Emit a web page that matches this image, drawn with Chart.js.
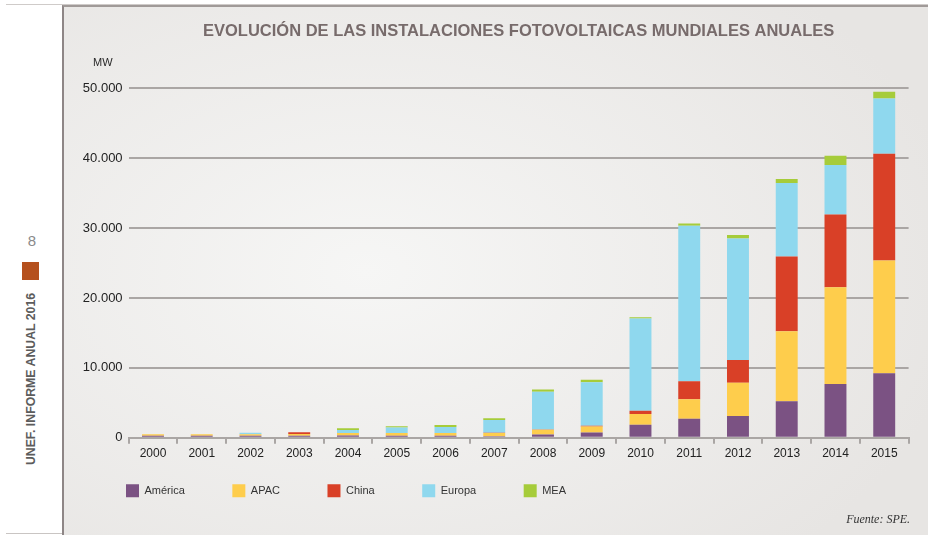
<!DOCTYPE html>
<html>
<head>
<meta charset="utf-8">
<script src="https://cdn.jsdelivr.net/npm/chart.js@4.4.0/dist/chart.umd.min.js"></script>
<style>
  html, body { margin: 0; padding: 0; background: #fff; }
  body { width: 928px; height: 535px; position: relative; overflow: hidden; font-family: "Liberation Sans", Arial, sans-serif; }
  .top-line { position: absolute; left: 6px; top: 4px; width: 922px; height: 1px; background: #cfcbc9; }
  .bottom-line { position: absolute; left: 6px; top: 533px; width: 922px; height: 1px; background: #c9c5c3; }
  .panel {
    position: absolute; left: 62px; top: 5px; width: 864px; height: 528px;
    border-left: 2px solid #8e8686; border-top: 2px solid #a09a98;
    background: radial-gradient(ellipse 70% 75% at 35% 50%, #f6f6f5 0%, #e7e5e3 100%);
  }
  .panel canvas { position: absolute; left: 0; top: 0; }
  .page-num { position: absolute; left: 24px; top: 232px; width: 16px; text-align: center; font-size: 15px; color: #8a8a8a; }
  .mark { position: absolute; left: 22px; top: 262px; width: 17px; height: 18px; background: #b5501d; }
  .side {
    position: absolute; left: 31px; top: 379px; transform: translate(-50%, -50%) rotate(-90deg);
    white-space: nowrap; font-weight: bold; font-size: 12.3px; color: #5c5c5c;
  }
</style>
</head>
<body>
<div class="top-line"></div>
<div class="bottom-line"></div>
<div class="page-num">8</div>
<div class="mark"></div>
<div class="side">UNEF. INFORME ANUAL 2016</div>
<div class="panel"><canvas id="pvChart" width="864" height="526"></canvas></div>
<script>
// data (MW)
const years = ["2000", "2001", "2002", "2003", "2004", "2005", "2006", "2007",
  "2008", "2009", "2010", "2011", "2012", "2013", "2014", "2015"];
const america = [280, 280, 280, 280, 330, 290, 290, 220, 470, 760, 1860, 2720, 3110, 5210, 7690, 9230];
const apac = [200, 220, 200, 250, 330, 380, 370, 470, 670, 860, 1530, 2780, 4770, 10030, 13850, 16130];
const china = [0, 0, 0, 250, 20, 20, 20, 20, 40, 100, 470, 2580, 3250, 10690, 10400, 15290];
const europa = [0, 0, 240, 0, 430, 760, 860, 1820, 5390, 6200, 13180, 22250, 17380, 10520, 7080, 7880];
const mea = [0, 0, 0, 0, 240, 190, 290, 240, 330, 380, 200, 330, 490, 570, 1330, 960];
const yTicks = [0, 10000, 20000, 30000, 40000, 50000];

const gridColor = "#aaa6a4";
const legendPad = 47.5;

function hasFont(name) {
  const c = document.createElement("canvas").getContext("2d");
  const s = "América MW 2015";
  c.font = "20px monospace";
  const a = c.measureText(s).width;
  c.font = '20px "' + name + '", monospace';
  return c.measureText(s).width !== a;
}
const narrow = hasFont("Liberation Sans Narrow");
const smallFont = narrow
  ? { family: '"Liberation Sans Narrow", "Liberation Sans", sans-serif', size: 13 }
  : { family: '"Liberation Sans", sans-serif', size: 11 };

function fmt(v) {
  return String(v).replace(/\B(?=(\d{3})+(?!\d))/g, ".");
}

// legend sits closer to the axis than Chart.js would put it with this wide item padding
const legendLift = {
  id: "legendLift",
  afterLayout(chart) {
    const lg = chart.legend;
    const h = lg.bottom - lg.top;
    lg.top = 477.3 - legendPad;
    lg.bottom = lg.top + h;
  },
};

// "MW" above the axis and the source note
const extraText = {
  id: "extraText",
  afterDraw(chart) {
    const ctx = chart.ctx;
    const area = chart.chartArea;
    ctx.save();
    ctx.fillStyle = "#2a2a2a";
    ctx.font = smallFont.size + "px " + smallFont.family;
    ctx.textBaseline = "middle";
    ctx.textAlign = "left";
    ctx.fillText("MW", chart.scales.y.left + 14.5, area.top - 25);
    ctx.fillStyle = "#333";
    ctx.font = 'italic 12px "Liberation Serif", serif';
    ctx.textBaseline = "alphabetic";
    ctx.textAlign = "right";
    ctx.fillText("Fuente: SPE.", area.right + 1.5, 515.5);
    ctx.restore();
  },
};

function ds(label, data, color) {
  return { label: label, data: data, backgroundColor: color, borderWidth: 0 };
}

const ctx = document.getElementById("pvChart").getContext("2d");
new Chart(ctx, {
  type: "bar",
  data: {
    labels: years,
    datasets: [
      ds("América", america, "#7b5283"),
      ds("APAC", apac, "#fecd4c"),
      ds("China", china, "#d94027"),
      ds("Europa", europa, "#8fd8ee"),
      ds("MEA", mea, "#a6cc3a"),
    ],
  },
  options: {
    responsive: false,
    animation: false,
    events: [],
    barPercentage: 0.9,
    categoryPercentage: 0.5,
    layout: { padding: { left: 14.5, right: 19.4, top: 0, bottom: 0.8 } },
    plugins: {
      title: {
        display: true,
        text: "EVOLUCIÓN DE LAS INSTALACIONES FOTOVOLTAICAS MUNDIALES ANUALES",
        fullSize: false,
        color: "#776b6b",
        font: { family: '"Liberation Sans", sans-serif', size: 16.5, weight: "bold", lineHeight: 1.2 },
        padding: { top: 14.1, bottom: 47.4 },
      },
      legend: {
        position: "bottom",
        align: "start",
        labels: {
          boxWidth: 13,
          boxHeight: 13,
          padding: legendPad,
          color: "#333",
          font: smallFont,
        },
      },
      tooltip: { enabled: false },
    },
    scales: {
      x: {
        stacked: true,
        afterFit: (scale) => { scale.height = 24; },
        grid: {
          offset: true,
          drawOnChartArea: false,
          drawTicks: true,
          tickLength: 6,
          color: gridColor,
          lineWidth: 2,
        },
        border: { display: true, color: gridColor, width: 2 },
        ticks: {
          color: "#222",
          padding: 3,
          maxRotation: 0,
          autoSkip: false,
          font: { family: '"Liberation Sans", sans-serif', size: 12 },
        },
      },
      y: {
        stacked: true,
        min: 0,
        max: 50000,
        afterFit: (scale) => { scale.width = 50.1; },
        afterBuildTicks: (scale) => { scale.ticks = yTicks.map((v) => ({ value: v })); },
        grid: { color: gridColor, lineWidth: 2, drawTicks: false },
        border: { display: false },
        ticks: {
          color: "#222",
          padding: 6,
          font: { family: '"Liberation Sans", sans-serif', size: 13 },
          callback: (v) => fmt(v),
        },
      },
    },
  },
  plugins: [legendLift, extraText],
});
</script>
</body>
</html>
